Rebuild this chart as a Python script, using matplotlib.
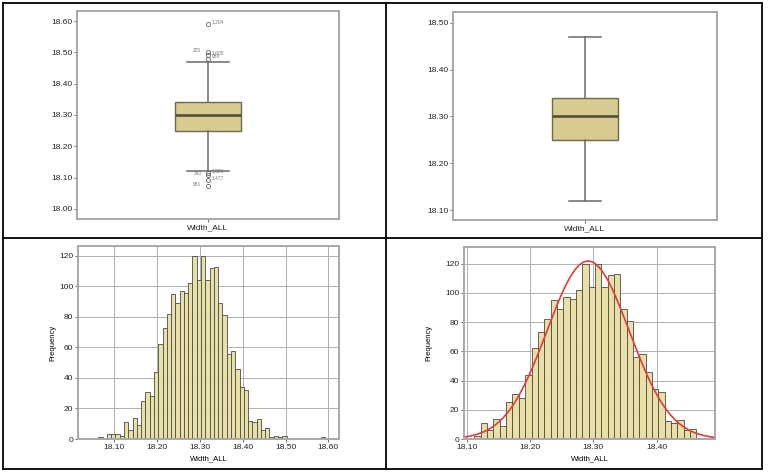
import numpy as np
import matplotlib
matplotlib.use('Agg')
import matplotlib.pyplot as plt
from matplotlib.lines import Line2D

plt.rcParams['font.family'] = 'Liberation Sans'

# ---- data ----
var_name = 'Width_ALL'

# box plot, all data (with outliers)
box_all = dict(med=18.30, q1=18.25, q3=18.34, whislo=18.12, whishi=18.47)
out_vals = [18.59, 18.50, 18.492, 18.48, 18.115, 18.107, 18.093, 18.073]
out_labels = ['1,204', '325', '1,605', '958', '1,526', '343', '1,477', '951']

# box plot, trimmed data
box_trim = dict(med=18.30, q1=18.25, q3=18.34, whislo=18.12, whishi=18.47)

# histogram counts, bins of 0.01 starting at 18.0625
bin_start = 18.0625
bin_width = 0.01
counts_all = [1, 0, 3, 3, 3, 2, 11, 6, 14, 9, 25, 31, 28, 44, 62, 73, 82, 95, 89,
              97, 96, 102, 120, 104, 120, 104, 112, 113, 89, 81, 56, 58, 46, 34,
              32, 12, 11, 13, 6, 7, 1, 2, 1, 2, 0, 0, 0, 0, 0, 0, 0, 0, 1]
# trimmed histogram uses bins 5..40 of the same grid
trim_first, trim_last = 5, 40

edges = bin_start + bin_width * np.arange(len(counts_all) + 1)
counts_all = np.array(counts_all)
counts_trim = counts_all[trim_first:trim_last + 1]
edges_trim = edges[trim_first:trim_last + 2]

box_fill = '#D6CB90'
bar_fill = '#E8E0A6'
frame_col = '#A8A8A8'
tick_fs = 6

fig = plt.figure(figsize=(7.7, 4.74), dpi=100)
W, H = 770., 474.

def axes_px(l, t, r, b):
    return fig.add_axes([l / W, 1 - b / H, (r - l) / W, (b - t) / H])

def style(ax):
    for s in ax.spines.values():
        s.set_color(frame_col)
        s.set_linewidth(1.4)
    ax.tick_params(labelsize=tick_fs, length=2, width=0.6, color='#555555',
                   labelcolor='#222222', pad=1.5)

def draw_box(ax, st, fliers, capw):
    st = dict(st, fliers=fliers)
    ax.bxp([st], positions=[1], widths=0.5, capwidths=capw, patch_artist=True,
           boxprops=dict(facecolor=box_fill, edgecolor='#6E6A50', linewidth=1.0),
           medianprops=dict(color='#5A5538', linewidth=2.0),
           whiskerprops=dict(color='#6A6A6A', linewidth=1.1),
           capprops=dict(color='#6A6A6A', linewidth=1.1),
           flierprops=dict(marker='o', markersize=3, markerfacecolor='none',
                           markeredgecolor='#666666', markeredgewidth=0.6))
    ax.set_xlim(0, 2)
    ax.set_xticks([1])
    ax.set_xticklabels([var_name])
    ax.yaxis.set_major_formatter(plt.FormatStrFormatter('%.2f'))
    style(ax)

# top-left: box plot with outliers
ax1 = axes_px(77, 11, 339, 219)
draw_box(ax1, box_all, out_vals, 0.32)
ax1.set_ylim(17.968, 18.632)
ax1.set_yticks(np.arange(18.0, 18.61, 0.1))
for v, lab in zip(out_vals, out_labels):
    dx = -0.05 if lab in ('325', '343', '951') else 0.03
    ha = 'right' if dx < 0 else 'left'
    ax1.text(1 + dx, v + 0.006, lab, fontsize=3.5, color='#777777', ha=ha, va='center')

# top-right: box plot without outliers
ax2 = axes_px(453, 12, 717, 220)
draw_box(ax2, box_trim, [], 0.24)
ax2.set_ylim(18.079, 18.523)
ax2.set_yticks(np.arange(18.1, 18.51, 0.1))

def draw_hist(ax, e, c, ypad):
    ax.bar(e[:-1], c, width=bin_width, align='edge', color=bar_fill,
           edgecolor='#4A4A4A', linewidth=0.6)
    ax.set_axisbelow(True)
    ax.grid(True, color='#B0B0B0', linewidth=0.7)
    ax.set_xlabel(var_name, fontsize=tick_fs - 0.5, labelpad=3)
    ax.set_ylabel('Frequency', fontsize=tick_fs - 0.5, labelpad=ypad)
    ax.xaxis.set_major_formatter(plt.FormatStrFormatter('%.2f'))
    ax.set_yticks(np.arange(0, 121, 20))
    style(ax)

# bottom-left: histogram of all data
ax3 = axes_px(78, 246, 339, 439)
draw_hist(ax3, edges, counts_all, 2)
ax3.set_xlim(18.015, 18.625)
ax3.set_ylim(0, 126.5)
ax3.set_xticks(np.arange(18.1, 18.61, 0.1))

# bottom-right: histogram of trimmed data with normal curve
ax4 = axes_px(464, 247, 715, 439)
draw_hist(ax4, edges_trim, counts_trim, 9)
centers = 0.5 * (edges_trim[:-1] + edges_trim[1:])
n = counts_trim.sum()
mu = (centers * counts_trim).sum() / n
sd = np.sqrt(((centers - mu) ** 2 * counts_trim).sum() / (n - 1))
xs = np.linspace(18.096, 18.492, 300)
ax4.plot(xs, n * bin_width / (sd * np.sqrt(2 * np.pi)) * np.exp(-0.5 * ((xs - mu) / sd) ** 2),
         color='#E03C3C', linewidth=1.2)
ax4.set_xlim(18.096, 18.492)
ax4.set_ylim(0, 131.4)
ax4.set_xticks(np.arange(18.1, 18.41, 0.1))

# table lines
for x0, y0, x1, y1 in [(3, 3, 762, 3), (3, 469, 762, 469), (3, 3, 3, 469),
                       (762, 3, 762, 469), (385.5, 3, 385.5, 469), (3, 238, 762, 238)]:
    fig.add_artist(Line2D([x0 / W, x1 / W], [1 - y0 / H, 1 - y1 / H],
                          color='black', linewidth=1.3))

fig.savefig('out.png', dpi=100)
